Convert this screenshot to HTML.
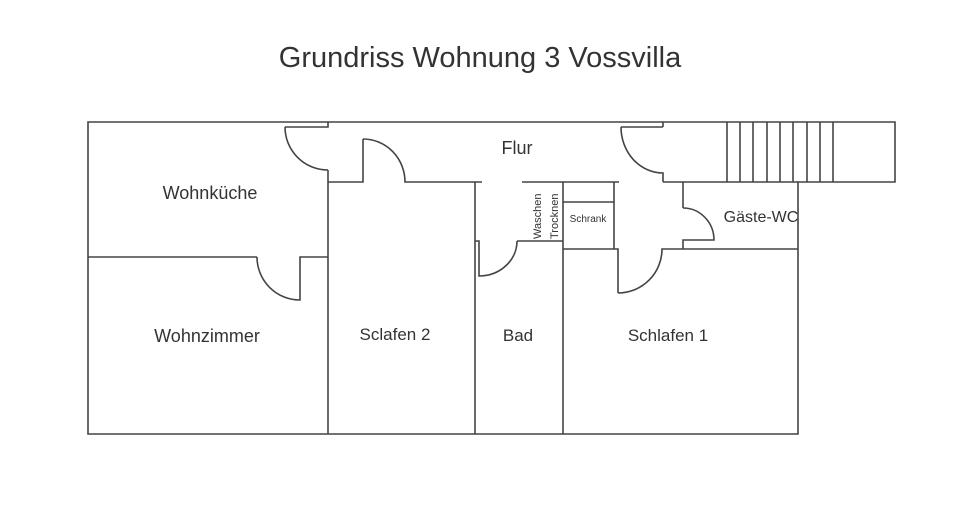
<!DOCTYPE html>
<html><head><meta charset="utf-8"><style>
html,body{margin:0;padding:0;background:#fff;width:960px;height:521px;overflow:hidden}
svg{display:block}
text{font-family:"Liberation Sans",sans-serif;fill:#333}
</style></head><body>
<svg width="960" height="521" viewBox="0 0 960 521">
<text x="480" y="67" font-size="29" text-anchor="middle" fill="#222">Grundriss Wohnung 3 Vossvilla</text>
<g fill="none" stroke="#444" stroke-width="1.6">
<path d="M88,122 H895 V182 H798 V434 H88 Z"/>
<path d="M285,127 H328 V122"/>
<path d="M285,127 A43,43 0 0 0 328,170"/>
<path d="M328,170 V434"/>
<path d="M328,182 H363 V139"/>
<path d="M363,139 A42,43 0 0 1 405,182 H482"/>
<path d="M475,182 V434"/>
<path d="M88,257 H257"/>
<path d="M257,257 A43,43 0 0 0 300,300 V257 H328"/>
<path d="M522,182 H619"/>
<path d="M563,182 V434"/>
<path d="M614,182 V249"/>
<path d="M563,202 H614"/>
<path d="M517,241 H563"/>
<path d="M517,241 A38,35 0 0 1 479,276 V241 H475"/>
<path d="M563,249 H618 V293"/>
<path d="M618,293 A44,44 0 0 0 662,249 H798"/>
<path d="M663,122 V127 M621,127 H663"/>
<path d="M621,127 A42,46 0 0 0 663,173 V182"/>
<path d="M683,182 V208"/>
<path d="M683,208 A31,32 0 0 1 714,240 H683 V249"/>
<path d="M663,182 H798"/>
<path d="M727,122V182M740,122V182M753,122V182M767,122V182M780,122V182M793,122V182M807,122V182M820,122V182M833,122V182"/>
</g>
<text x="210" y="199" font-size="18" text-anchor="middle">Wohnküche</text>
<text x="207" y="342" font-size="18" text-anchor="middle">Wohnzimmer</text>
<text x="395" y="340" font-size="17" text-anchor="middle">Sclafen 2</text>
<text x="518" y="341" font-size="17" text-anchor="middle">Bad</text>
<text x="668" y="341" font-size="17" text-anchor="middle">Schlafen 1</text>
<text x="517" y="154" font-size="18" text-anchor="middle">Flur</text>
<text x="761" y="222" font-size="16" text-anchor="middle">Gäste-WC</text>
<text x="588" y="222" font-size="10" text-anchor="middle">Schrank</text>
<text transform="translate(541,239) rotate(-90)" font-size="11">Waschen</text>
<text transform="translate(558,239) rotate(-90)" font-size="11">Trocknen</text>
</svg>
</body></html>
